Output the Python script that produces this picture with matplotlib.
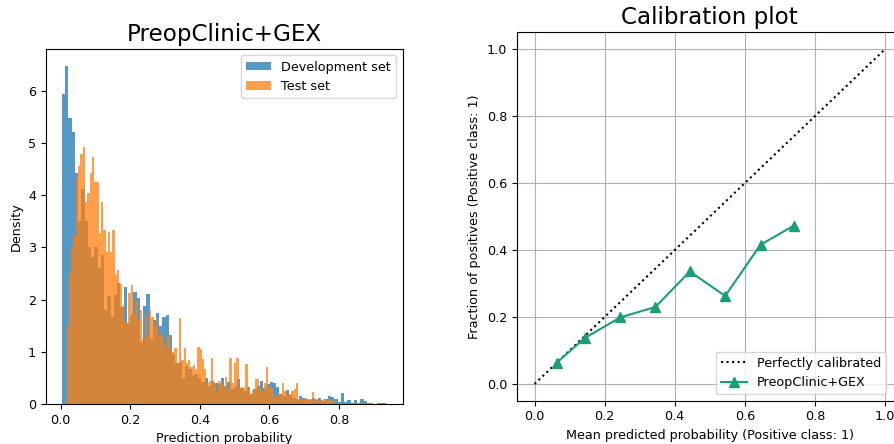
import numpy as np
import matplotlib
matplotlib.use("Agg")
import matplotlib.pyplot as plt

plt.rcParams["font.size"] = 9.2

# ---- Histogram data (density per bin) ----
dev_start, dev_stop = 0.0036, 0.936
dev_density = [
    5.94, 6.47, 5.49, 5.22, 4.43, 3.5, 4.12, 3.5, 3.0, 2.82,
    3.0, 2.6, 2.85, 1.8, 2.07, 1.67, 2.08, 2.32, 1.85, 2.25,
    1.56, 1.7, 2.15, 2.04, 1.18, 1.88, 2.1, 1.24, 1.61, 1.74,
    1.5, 1.67, 1.7, 1.32, 0.95, 0.78, 0.8, 0.5, 0.72, 0.68,
    0.55, 0.58, 0.5, 0.42, 0.5, 0.35, 0.45, 0.4, 0.38, 0.5,
    0.35, 0.42, 0.28, 0.35, 0.48, 0.3, 0.25, 0.33, 0.2, 0.28,
    0.35, 0.45, 0.3, 0.38, 0.42, 0.4, 0.32, 0.2, 0.15, 0.27,
    0.18, 0.12, 0.1, 0.16, 0.12, 0.1, 0.08, 0.11, 0.08, 0.11,
    0.06, 0.1, 0.15, 0.13, 0.09, 0.04, 0.22, 0.03, 0.07, 0.02,
    0.07, 0.02, 0.1, 0.05, 0.01, 0.01, 0.0, 0.02, 0.02, 0.01,
]
test_start, test_stop = 0.017, 0.788
test_density = [
    1.51, 2.51, 2.99, 3.22, 4.35, 4.56, 4.8, 4.92, 3.88, 4.04,
    4.42, 4.74, 4.26, 4.26, 3.27, 3.88, 3.33, 2.92, 3.3, 2.92,
    3.33, 2.5, 2.57, 2.3, 1.87, 1.6, 1.56, 2.12, 2.28, 1.7,
    2.0, 1.6, 1.8, 1.25, 1.7, 1.3, 1.8, 1.67, 1.5, 1.65,
    1.3, 1.4, 1.2, 1.07, 1.3, 1.05, 1.0, 1.07, 0.78, 1.64,
    0.84, 1.07, 0.78, 0.84, 0.71, 0.75, 0.65, 1.1, 1.05, 0.87,
    0.68, 0.4, 0.45, 0.89, 0.4, 0.25, 0.45, 0.42, 0.35, 0.52,
    0.27, 0.88, 0.4, 0.78, 0.88, 0.3, 0.33, 0.3, 0.77, 0.3,
    0.2, 0.27, 0.47, 0.47, 0.3, 0.24, 0.4, 0.7, 0.35, 0.3,
    0.2, 0.14, 0.2, 0.2, 0.4, 0.24, 0.17, 0.2, 0.24, 0.28,
    0.41, 0.1, 0.09, 0.1, 0.12, 0.1, 0.1, 0.23, 0.1, 0.1,
    0.06, 0.07, 0.1, 0.08, 0.07, 0.05, 0.1,
]

# ---- Calibration data ----
mean_pred = [0.064, 0.143, 0.245, 0.345, 0.443, 0.544, 0.645, 0.740]
frac_pos = [0.064, 0.137, 0.199, 0.230, 0.336, 0.263, 0.416, 0.473]

W, H = 894, 444
fig = plt.figure(figsize=(W / 100, H / 100), dpi=100)

# Left: histogram
ax1 = fig.add_axes([45.7 / W, 1 - 404 / H, 357 / W, 355 / H])
dev_edges = np.linspace(dev_start, dev_stop, len(dev_density) + 1)
test_edges = np.linspace(test_start, test_stop, len(test_density) + 1)
dev_centers = 0.5 * (dev_edges[:-1] + dev_edges[1:])
test_centers = 0.5 * (test_edges[:-1] + test_edges[1:])
ax1.hist(dev_centers, bins=dev_edges, weights=dev_density, alpha=0.75,
         color="#1f77b4", label="Development set")
ax1.hist(test_centers, bins=test_edges, weights=test_density, alpha=0.75,
         color="#ff7f0e", label="Test set")
ax1.set_xlim(-0.043, 0.983)
ax1.set_ylim(0, 6.805)
ax1.set_xlabel("Prediction probability")
ax1.set_ylabel("Density")
ax1.set_title("PreopClinic+GEX", fontsize=16.6)
ax1.legend(loc="upper right")

# Right: calibration
ax2 = fig.add_axes([517 / W, 1 - 400.7 / H, 385.5 / W, 368.2 / H])
ax2.plot([0, 1], [0, 1], "k:", label="Perfectly calibrated")
ax2.plot(mean_pred, frac_pos, marker="^", markersize=6.5, color="#1b9e77",
         label="PreopClinic+GEX")
ax2.set_xlim(-0.05, 1.05)
ax2.set_ylim(-0.05, 1.05)
ax2.grid(True)
ax2.set_xlabel("Mean predicted probability (Positive class: 1)")
ax2.set_ylabel("Fraction of positives (Positive class: 1)")
ax2.set_title("Calibration plot", fontsize=16.6)
ax2.legend(loc="lower right", bbox_to_anchor=(0.974, 0.0))

fig.savefig("out.png", dpi=100)
